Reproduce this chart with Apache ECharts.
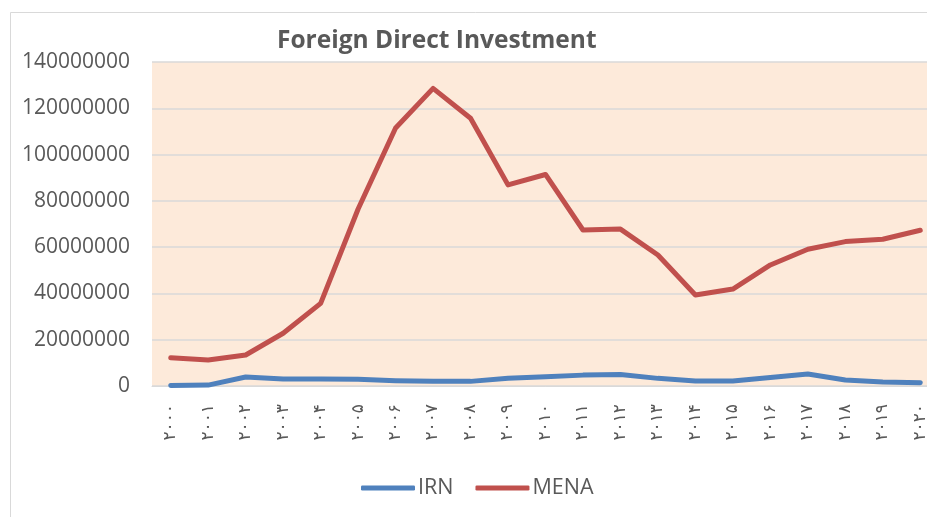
<!DOCTYPE html>
<html>
<head>
<meta charset="utf-8">
<script src="https://cdn.jsdelivr.net/npm/echarts@6/dist/echarts.min.js"></script>
<style>html,body{margin:0;padding:0;background:#fff;overflow:hidden;width:927px;height:517px;}#c{width:939px;height:517px;}</style>
</head>
<body>
<div id="c"></div>
<script>
const categories = ['۲۰۰۰','۲۰۰۱','۲۰۰۲','۲۰۰۳','۲۰۰۴','۲۰۰۵','۲۰۰۶','۲۰۰۷','۲۰۰۸','۲۰۰۹','۲۰۱۰','۲۰۱۱','۲۰۱۲','۲۰۱۳','۲۰۱۴','۲۰۱۵','۲۰۱۶','۲۰۱۷','۲۰۱۸','۲۰۱۹','۲۰۲۰'];
const irn = [200000, 400000, 3900000, 3000000, 3000000, 2900000, 2300000, 2000000, 2000000, 3300000, 4000000, 4700000, 5000000, 3300000, 2200000, 2200000, 3700000, 5200000, 2600000, 1700000, 1400000];
const mena = [12200000, 11200000, 13400000, 22800000, 35700000, 76500000, 111500000, 128600000, 115700000, 86900000, 91400000, 67400000, 67800000, 56600000, 39300000, 41900000, 52300000, 59100000, 62400000, 63400000, 67300000];
const yTicks = {min: 0, max: 140000000, interval: 20000000};

const chart = echarts.init(document.getElementById('c'));
chart.setOption({
  animation: false,
  backgroundColor: '#ffffff',
  graphic: [{
    type: 'rect', left: 8, top: 10, silent: true, z: -10,
    shape: {width: 940, height: 520},
    style: {fill: 'none', stroke: '#d9d9d9', lineWidth: 1}
  }],
  title: {
    text: 'Foreign Direct Investment',
    left: 272, top: 24,
    textStyle: {fontFamily: 'Open Sans', fontWeight: 'bold', fontSize: 24.5, color: '#595959'}
  },
  legend: {
    data: ['IRN', 'MENA'],
    left: 356, top: 472,
    itemWidth: 54, itemHeight: 5, itemGap: 22,
    icon: 'roundRect',
    textStyle: {fontFamily: 'Open Sans', fontSize: 21.5, color: '#595959', padding: [0,0,0,-2]}
  },
  grid: {left: 152, top: 62, right: 0, bottom: 131, containLabel: false,
         show: true, backgroundColor: '#fdeada', borderWidth: 0},
  xAxis: {
    type: 'category', data: categories, boundaryGap: true,
    axisLine: {lineStyle: {color: '#d9d9d9', width: 1}},
    axisTick: {show: false},
    axisLabel: {rotate: 90, interval: 0, margin: 18, fontFamily: 'DejaVu Sans', fontSize: 17, color: '#595959'}
  },
  yAxis: {
    type: 'value', min: yTicks.min, max: yTicks.max, interval: yTicks.interval,
    axisLine: {show: false}, axisTick: {show: false},
    splitLine: {lineStyle: {color: '#d9d9d9', width: 1.5}},
    axisLabel: {margin: 22, fontFamily: 'Open Sans', fontSize: 21, color: '#595959',
                formatter: v => String(v)}
  },
  series: [
    {name: 'IRN', type: 'line', data: irn, symbol: 'none', color: '#4f81bd',
     lineStyle: {width: 5, cap: 'round', join: 'round'}},
    {name: 'MENA', type: 'line', data: mena, symbol: 'none', color: '#c0504d',
     lineStyle: {width: 5, cap: 'round', join: 'round'}}
  ]
});
</script>
</body>
</html>
